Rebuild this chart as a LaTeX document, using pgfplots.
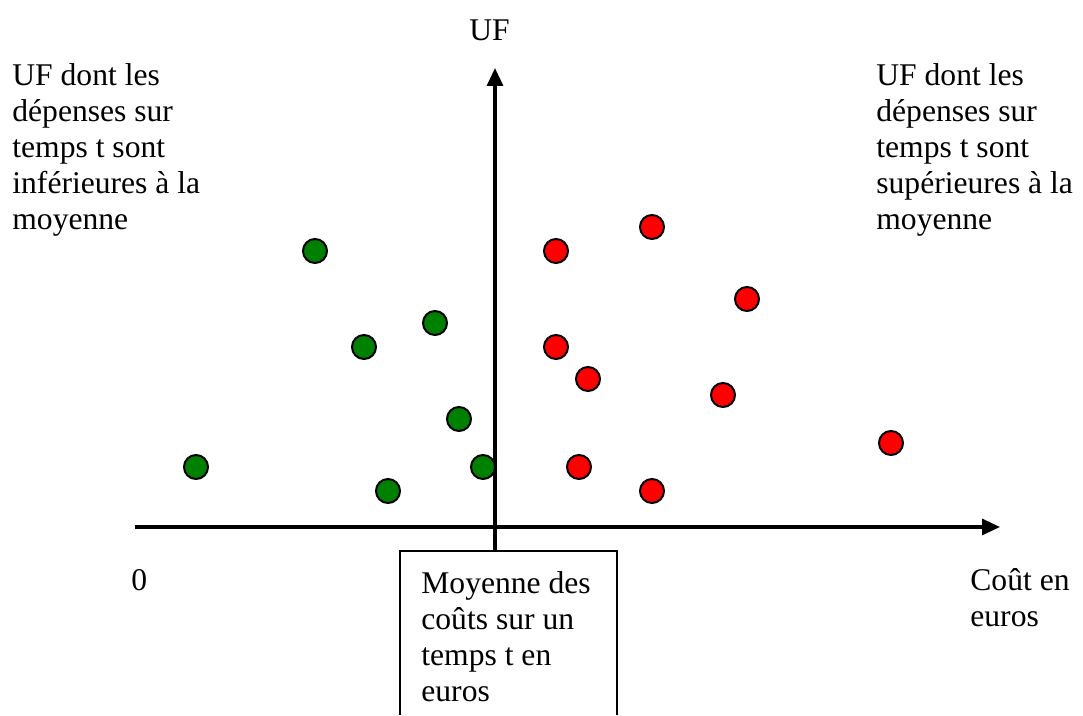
\documentclass[border=0pt]{standalone}
\usepackage{pgfplots}
\pgfplotsset{compat=1.18}
\usepackage{fontspec}
\setmainfont{Liberation Serif}
\usetikzlibrary{arrows.meta}
\definecolor{dgreen}{RGB}{0,128,0}
\definecolor{dred}{RGB}{255,0,0}
\begin{document}
\begin{tikzpicture}[txt/.style={anchor=base west,inner sep=0pt,font=\fontsize{15.8}{18}\selectfont}]
\begin{axis}[
  width=541.5pt, height=357.5pt, scale only axis,
  xmin=0, xmax=1083, ymin=0, ymax=715,
  axis lines=none, clip=false,
]
% invisible frame for bounding box
\path (axis cs:0,0) rectangle (axis cs:1083,715);
% axes
\draw[line width=1.6pt,-{Triangle[length=9pt,width=8pt]}] (axis cs:135,188) -- (axis cs:1000,188);
\draw[line width=1.6pt,-{Triangle[length=9pt,width=8pt]}] (axis cs:495,164) -- (axis cs:495,647);
% box
\draw[line width=1pt] (axis cs:400,0) -- (axis cs:400,164) -- (axis cs:617,164) -- (axis cs:617,0);
% points
\addplot[only marks, mark=*, mark size=6pt, mark options={fill=dgreen, draw=black, line width=1pt}]
coordinates {(315,464) (435,392) (364,368) (459,296) (196,248) (483,248) (388,224)};
\addplot[only marks, mark=*, mark size=6pt, mark options={fill=dred, draw=black, line width=1pt}]
coordinates {(652,488) (556,464) (747,416) (556,368) (588,336) (723,320) (891,272) (579,248) (652,224)};
% texts
\node[txt] at (axis cs:12,629) {UF dont les};
\node[txt] at (axis cs:12,593) {dépenses sur};
\node[txt] at (axis cs:12,557) {temps t sont};
\node[txt] at (axis cs:12,521) {inférieures à la};
\node[txt] at (axis cs:12,485) {moyenne};
\node[txt] at (axis cs:876,629) {UF dont les};
\node[txt] at (axis cs:876,593) {dépenses sur};
\node[txt] at (axis cs:876,557) {temps t sont};
\node[txt] at (axis cs:876,521) {supérieures à la};
\node[txt] at (axis cs:876,485) {moyenne};
\node[txt] at (axis cs:469,674) {UF};
\node[txt] at (axis cs:131,124) {0};
\node[txt] at (axis cs:970,124) {Coût en};
\node[txt] at (axis cs:970,88) {euros};
\node[txt] at (axis cs:421,121) {Moyenne des};
\node[txt] at (axis cs:421,85) {coûts sur un};
\node[txt] at (axis cs:421,49) {temps t en};
\node[txt] at (axis cs:421,13) {euros};
\end{axis}
\end{tikzpicture}
\end{document}
